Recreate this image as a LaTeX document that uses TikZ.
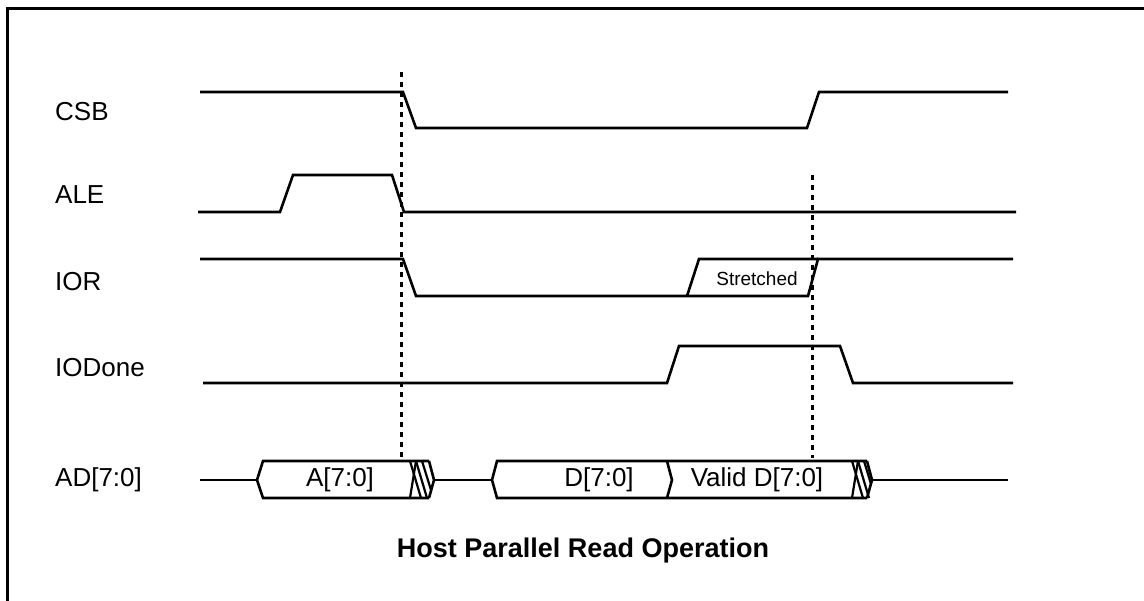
\documentclass[tikz,border=0pt]{standalone}
\usepackage{fontspec}
\setmainfont{Liberation Sans}
\begin{document}
\begin{tikzpicture}[x=1pt,y=-1pt,
  sig/.style={line width=2.6pt, line join=miter},
  hatch/.style={line width=2.2pt},
  guide/.style={line width=3pt, dash pattern=on 5pt off 5pt},
  lbl/.style={anchor=west, inner sep=0pt, font=\fontsize{26}{30}\selectfont},
  bustext/.style={inner sep=0pt, font=\fontsize{26}{30}\selectfont}]
\useasboundingbox (0,0) rectangle (1144,601);
\clip (0,0) rectangle (1144,601);
% outer frame (runs past the right and bottom edges)
\draw[line width=3pt] (7,9) rectangle (1170,630);

% signal names
\node[lbl] (lcsb) at (55,112) {CSB};
\node[lbl] (lale) at (55,195) {ALE};
\node[lbl] (lior) at (55,282) {IOR};
\node[lbl] (liod) at (55,368) {IODone};
\node[lbl] (lad)  at (55,480) {AD[7:0]};

% CSB
\draw[sig] (200,92) -- (403,92) -- (416,128) -- (807,128) -- (819,92) -- (1008,92);
% ALE
\draw[sig] (198,212) -- (280,212) -- (293,175) -- (392,175) -- (404,212) -- (1016,212);
% IOR with stretched high phase
\draw[sig] (200,259) -- (403,259) -- (416,296) -- (808,296) -- (818,259) -- (1013,259);
\draw[sig] (687,296) -- (699,259) -- (818,259);
\node[inner sep=0pt, font=\fontsize{19}{22}\selectfont] (str) at (757,279) {Stretched};
% IODone
\draw[sig] (203,383) -- (667,383) -- (679,346) -- (840,346) -- (853,383) -- (1013,383);

% AD bus
\draw[sig] (200,480) -- (257,480);
\draw[sig] (429,461) -- (263,461) -- (257,480) -- (263,498) -- (429,498);
\draw[sig] (429,461) -- (434,480) -- (429,498);
\draw[hatch] (410,498) -- (416,461);
\draw[hatch] (410,461) -- (421,498);
\draw[hatch] (416,461) -- (427,498);
\draw[hatch] (422,461) -- (431,490);
\node[bustext] (ta) at (340,480) {A[7:0]};
\draw[sig] (434,480) -- (492,480);
\draw[sig] (867,461) -- (497,461) -- (492,480) -- (497,498) -- (867,498);
\draw[sig] (667,461) -- (672,480) -- (667,498);
\draw[sig] (867,461) -- (872,480) -- (867,498);
\draw[hatch] (852,498) -- (858,461);
\draw[hatch] (852,461) -- (863,498);
\draw[hatch] (858,461) -- (869,498);
\draw[hatch] (864,461) -- (871,484);
\node[bustext] (td) at (599,480) {D[7:0]};
\node[bustext] (tv) at (757,480) {Valid D[7:0]};
\draw[sig] (872,480) -- (1008,480);

% timing reference lines
\draw[guide] (401,72) -- (401,458);
\draw[guide] (812,175) -- (812,458);

% caption
\node[inner sep=0pt, font=\bfseries\fontsize{27}{30}\selectfont] (title) at (583,551) {Host Parallel Read Operation};
\end{tikzpicture}
\end{document}
